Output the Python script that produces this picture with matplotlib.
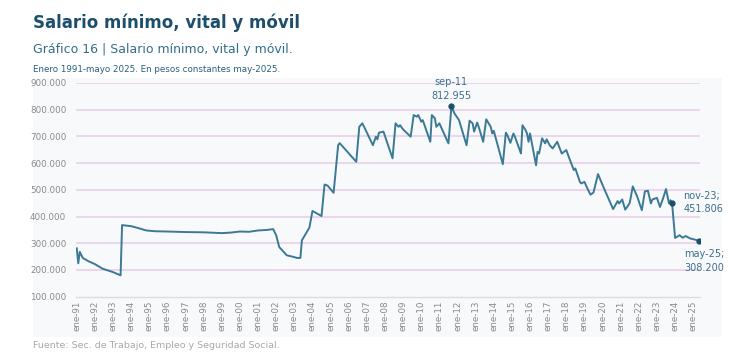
import matplotlib.pyplot as plt
from matplotlib.patches import Rectangle

# Salario minimo, vital y movil - pesos constantes may-2025 (en miles)
fechas = ["1991-01", "1991-02", "1991-03", "1991-05", "1991-09", "1992-01", "1992-06",
          "1993-01", "1993-06", "1993-07", "1994-01", "1994-05", "1994-11", "1995-05",
          "1996-01", "1997-01", "1998-01", "1999-01", "1999-07", "2000-01", "2000-07",
          "2001-01", "2001-07", "2001-11", "2002-01", "2002-03", "2002-08", "2002-11",
          "2003-03", "2003-05", "2003-06", "2003-11", "2004-01", "2004-07", "2004-09",
          "2004-11", "2005-03", "2005-06", "2005-07", "2006-06", "2006-08", "2006-10",
          "2006-11", "2007-05", "2007-07", "2007-08", "2007-09", "2007-12", "2008-06",
          "2008-08", "2008-10", "2008-11", "2009-01", "2009-06", "2009-08", "2009-10",
          "2009-11", "2010-01", "2010-02", "2010-07", "2010-08", "2010-10", "2010-11",
          "2011-01", "2011-07", "2011-09", "2011-11", "2012-02", "2012-07", "2012-09",
          "2012-11", "2012-12", "2013-02", "2013-03", "2013-06", "2013-08", "2013-11",
          "2013-12", "2014-01", "2014-07", "2014-09", "2014-10", "2014-12", "2015-02",
          "2015-03", "2015-07", "2015-08", "2015-10", "2015-11", "2015-12", "2016-01",
          "2016-05", "2016-06", "2016-07", "2016-09", "2016-11", "2016-12", "2017-02",
          "2017-04", "2017-07", "2017-10", "2018-01", "2018-03", "2018-06", "2018-07",
          "2018-10", "2018-11", "2019-01", "2019-03", "2019-05", "2019-07", "2019-10",
          "2020-02", "2020-08", "2020-11", "2020-12", "2021-02", "2021-04", "2021-06",
          "2021-07", "2021-09", "2021-12", "2022-03", "2022-05", "2022-07", "2022-09",
          "2022-10", "2023-01", "2023-03", "2023-05", "2023-07", "2023-09", "2023-10",
          "2023-11", "2024-01", "2024-04", "2024-06", "2024-08", "2024-11", "2025-02",
          "2025-05"]
valores = [281, 225, 268, 245, 232, 222, 205,
           192, 180, 368, 364, 358, 348, 345,
           344, 342, 341, 338, 340, 344, 343,
           348, 350, 353, 330, 286, 255, 251,
           245, 245, 311, 359, 421, 402, 520,
           516, 489, 667, 675, 605, 736, 749,
           738, 667, 699, 689, 714, 718, 618,
           749, 736, 742, 726, 699, 780, 774,
           780, 755, 761, 680, 780, 768, 736,
           749, 674, 812.955, 786, 761, 667, 759,
           749, 718, 752, 736, 680, 764, 736,
           711, 721, 596, 714, 705, 676, 711,
           699, 636, 742, 724, 711, 680, 711,
           592, 642, 636, 693, 674, 689, 667,
           655, 680, 636, 649, 618, 574, 580,
           530, 524, 530, 505, 482, 490, 559,
           505, 428, 458, 449, 464, 426, 442,
           451, 513, 474, 424, 494, 497, 449,
           464, 470, 436, 467, 503, 449, 461,
           451.806, 320, 330, 321, 327, 318, 314,
           308.2]
y_ticks = [100, 200, 300, 400, 500, 600, 700, 800, 900]
x_labels = ["ene-%02d" % (y % 100) for y in range(1991, 2026)]
puntos = {"2011-09": ("sep-11\n812.955", "top"),
          "2023-11": ("nov-23;\n451.806", "right"),
          "2025-05": ("may-25;\n308.200", "below")}


def mes(f):
    a, m = f.split("-")
    return (int(a) - 1991) * 12 + int(m) - 1


x = [mes(f) for f in fechas]

fig = plt.figure(figsize=(7.3, 3.58), dpi=100)
fig.patch.set_facecolor("white")
fig.patches.append(Rectangle((33 / 730, 1 - 337 / 358), 689 / 730, 259 / 358,
                             transform=fig.transFigure, facecolor="#f8f9fb",
                             edgecolor="none", zorder=-5))

fig.text(33 / 730, 1 - 23 / 358, "Salario mínimo, vital y móvil", fontsize=12,
         fontweight="bold", color="#1d4e6b", va="center")
fig.text(33 / 730, 1 - 49 / 358, "Gráfico 16 | Salario mínimo, vital y móvil.",
         fontsize=9, color="#336d8c", va="center")
fig.text(33 / 730, 1 - 70 / 358, "Enero 1991-mayo 2025. En pesos constantes may-2025.",
         fontsize=6.3, color="#2b5f7e", va="center")
fig.text(33 / 730, 1 - 345 / 358, "Fuente: Sec. de Trabajo, Empleo y Seguridad Social.",
         fontsize=6.8, color="#a8a8a8", va="center")

ax = fig.add_axes([76 / 730, 61.3 / 358, 624 / 730, 213.7 / 358])
ax.set_facecolor("none")
ax.set_zorder(2)
ax.set_xlim(-0.5, 412.5)
ax.set_ylim(100, 900)
for v in y_ticks[1:]:
    ax.axhline(v, color="#ead3ea", lw=1.3, zorder=1)
for s in ["top", "right", "left"]:
    ax.spines[s].set_visible(False)
ax.spines["bottom"].set_color("#dcdcdc")
ax.spines["bottom"].set_linewidth(1.0)

ax.plot(x, valores, color="#3b7995", lw=1.4, zorder=3)

ax.set_yticks(y_ticks)
ax.set_yticklabels(["%d.000" % v for v in y_ticks], fontsize=6.3, color="#8a8a8a")
ax.set_xticks([i * 12 for i in range(len(x_labels))])
ax.set_xticklabels(x_labels, rotation=90, fontsize=6.3, color="#8a8a8a")
ax.tick_params(length=0, pad=3)
ax.tick_params(axis="y", pad=7)

for f, (txt, pos) in puntos.items():
    xi = mes(f)
    yi = valores[fechas.index(f)]
    ax.plot(xi, yi, "o", color="#1d4e6b", ms=3.5, zorder=4)
    if pos == "top":
        ax.annotate(txt, (xi, yi), xytext=(0, 4), textcoords="offset points",
                    ha="center", va="bottom", fontsize=7, color="#3d6e8c",
                    linespacing=1.4)
    elif pos == "right":
        ax.annotate(txt, (xi, yi), xytext=(8, 0), textcoords="offset points",
                    ha="left", va="center", fontsize=7, color="#3d6e8c",
                    linespacing=1.4)
    else:
        ax.annotate(txt, (xi, yi), xytext=(-11, -6), textcoords="offset points",
                    ha="left", va="top", fontsize=7, color="#3d6e8c",
                    linespacing=1.4, annotation_clip=False)

fig.savefig("out.png", dpi=100)
